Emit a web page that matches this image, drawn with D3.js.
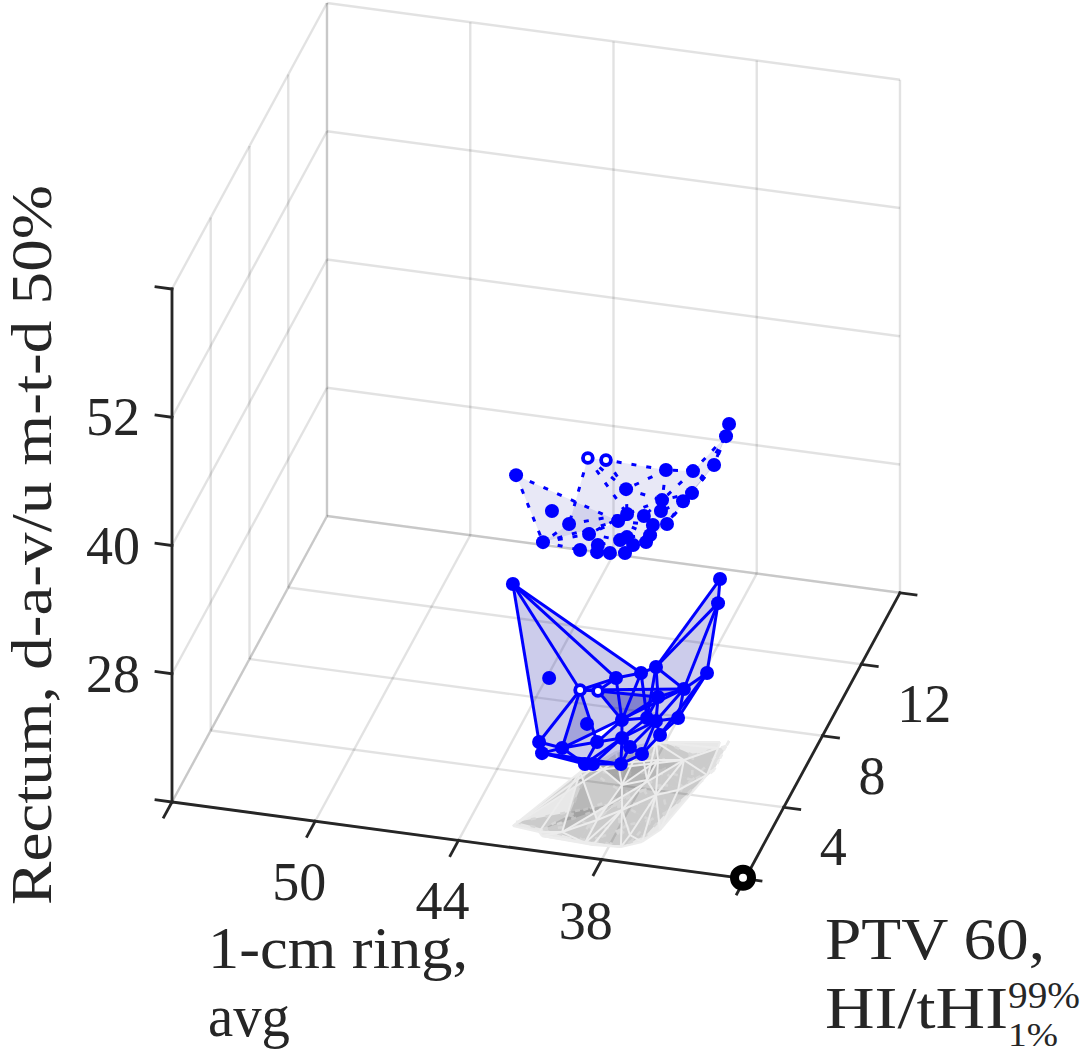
<!DOCTYPE html>
<html>
<head>
<meta charset="utf-8">
<script src="https://cdn.jsdelivr.net/npm/d3@7"></script>
<style>
  html, body { margin: 0; padding: 0; background: #fff; }
  svg { display: block; }
  text { font-family: "Liberation Serif", serif; fill: #262626; }
</style>
</head>
<body>
<svg id="chart" width="1081" height="1053"></svg>
<script>
const xTicks = [56, 50, 44, 38, 32];
const yTicks = [0, 4, 8, 12, 16];
const zTicks = [16, 28, 40, 52, 64];
const xTickLabels = ['', '50', '44', '38', ''];
const yTickLabels = ['', '4', '8', '12', ''];
const zTickLabels = ['', '28', '40', '52', ''];

// lower surface, drawn with solid lines
const solidX = [42.18, 35.87, 35.82, 35.68, 38.37, 38.89, 39.72, 41.19, 40.70, 40.15, 36.90, 37.91, 39.84, 38.79, 37.92, 36.49, 37.25, 39.02, 38.26, 41.03, 40.83, 40.13, 39.01, 38.65, 37.52, 36.80, 36.35, 37.42];
const solidY = [1.13, 6.96, 6.63, 5.15, 6.51, 6.25, 5.71, 2.43, 4.42, 4.91, 5.77, 5.59, 3.01, 4.03, 4.47, 4.16, 3.75, 2.03, 2.73, 1.00, 0.81, 1.16, 0.75, 0.70, 0.79, 1.20, 1.95, 1.48];
const solidZ = [38.64, 31.25, 29.56, 25.54, 23.02, 22.74, 22.92, 27.97, 23.67, 22.92, 22.64, 21.89, 23.11, 22.08, 21.80, 22.74, 22.92, 23.30, 22.74, 24.42, 23.76, 23.86, 23.39, 23.58, 23.76, 24.23, 24.89, 24.23];
const solidHollow = [9, 10];
// point numbers count from 1
const solidTriangles = [
  [1, 20, 9], [20, 22, 9], [1, 9, 7], [1, 7, 6], [2, 3, 5], [3, 5, 11], [3, 11, 4], [4, 11, 16], [4, 16, 27],
  [5, 6, 15], [5, 15, 12], [5, 12, 11], [6, 7, 14], [6, 14, 15], [7, 10, 14], [9, 10, 7], [9, 11, 22], [10, 12, 14],
  [9, 18, 22], [20, 21, 22], [21, 22, 23], [22, 18, 23], [18, 23, 19], [23, 24, 19], [24, 25, 19], [18, 19, 14],
  [14, 15, 19], [15, 17, 19], [15, 12, 17], [12, 11, 17], [11, 16, 17], [16, 27, 17], [17, 27, 26], [17, 26, 28],
  [17, 19, 28], [19, 25, 28], [28, 25, 26], [21, 23, 24], [21, 24, 25]
];

// upper surface, drawn with dotted lines
const dottedX = [42.14, 35.54, 35.55, 35.51, 36.65, 37.96, 40.44, 39.90, 38.84, 41.08, 40.22, 40.94, 36.16, 36.36, 37.54, 37.27, 37.83, 38.38, 38.56, 39.23, 37.16, 36.46, 36.95, 36.79, 37.75, 37.91, 37.19, 37.40, 37.99, 38.53, 39.26, 38.61];
const dottedY = [1.36, 7.08, 6.79, 5.46, 6.09, 6.53, 4.58, 5.12, 4.58, 2.45, 2.10, 1.18, 4.78, 4.35, 5.09, 4.31, 3.93, 3.55, 3.07, 1.72, 3.21, 2.94, 2.40, 1.59, 1.98, 1.67, 1.24, 0.92, 0.82, 0.83, 0.87, 1.10];
const dottedZ = [48.46, 45.65, 45.00, 44.53, 42.57, 41.54, 45.19, 44.25, 42.75, 43.60, 43.22, 42.85, 42.85, 42.75, 41.26, 41.63, 41.63, 42.29, 42.38, 43.22, 42.19, 42.94, 42.66, 43.41, 42.94, 43.13, 43.60, 43.32, 43.32, 43.22, 43.13, 43.41];
const dottedHollow = [7, 8];
const dottedTriangles = [
  [1, 12, 19], [7, 8, 9], [7, 9, 18], [7, 18, 11], [11, 18, 20], [11, 20, 12], [12, 20, 31], [8, 6, 9], [9, 6, 15],
  [9, 15, 18], [15, 17, 18], [6, 5, 15], [5, 15, 13], [5, 13, 3], [3, 13, 4], [2, 3, 4], [13, 14, 4], [4, 14, 22],
  [14, 16, 22], [15, 16, 14], [15, 13, 14], [15, 16, 17], [16, 17, 21], [16, 21, 22], [17, 18, 19], [17, 19, 21],
  [19, 21, 23], [21, 22, 23], [19, 23, 25], [19, 25, 26], [19, 20, 26], [20, 32, 26], [20, 31, 32], [31, 30, 32],
  [30, 29, 32], [32, 29, 26], [29, 28, 26], [26, 28, 27], [26, 25, 27], [25, 23, 27], [23, 24, 27], [23, 22, 24], [27, 28, 24]
];

const utopia = [32, 0, 16];

const xDomain = [56, 32], yDomain = [0, 16], zDomain = [16, 64];

const svg = d3.select('#chart');

// orthographic view: every data axis gets its own screen direction
const xPx = d3.scaleLinear().domain(xDomain).range([0, 573]);
const xPy = d3.scaleLinear().domain(xDomain).range([0, 76.8]);
const yPx = d3.scaleLinear().domain(yDomain).range([0, 155]);
const yPy = d3.scaleLinear().domain(yDomain).range([0, -286]);
const zPy = d3.scaleLinear().domain(zDomain).range([0, -513]);
const originX = 172, originY = 802;

function project(x, y, z) {
  return [originX + xPx(x) + yPx(y), originY + xPy(x) + yPy(y) + zPy(z)];
}

const line3 = d3.line();

function drawSegments(parent, segs, attrs) {
  return parent.append('g')
    .attr('fill', 'none')
    .selectAll('path')
    .data(segs)
    .join('path')
      .attr('d', d => line3(d.map(p => project(p[0], p[1], p[2]))))
      .attr('stroke-linecap', attrs.cap || 'butt')
      .attr('stroke', attrs.color)
      .attr('stroke-opacity', attrs.opacity || 1)
      .attr('stroke-width', attrs.width);
}

const [x0, x1] = xDomain, [y0, y1] = yDomain, [z0, z1] = zDomain;

// back walls and floor, edges shared by two planes come out darker
const grid = [];
xTicks.forEach(x => {
  grid.push([[x, y0, z0], [x, y1, z0]]);
  grid.push([[x, y1, z0], [x, y1, z1]]);
});
yTicks.forEach(y => {
  grid.push([[x0, y, z0], [x1, y, z0]]);
  grid.push([[x0, y, z0], [x0, y, z1]]);
});
zTicks.forEach(z => {
  grid.push([[x0, y0, z], [x0, y1, z]]);
  grid.push([[x0, y1, z], [x1, y1, z]]);
});
drawSegments(svg, grid, { color: '#000', opacity: 0.115, width: 2.4 });

function edgesOf(triangles) {
  const seen = new Map();
  triangles.forEach(t => {
    [[t[0], t[1]], [t[1], t[2]], [t[2], t[0]]].forEach(([a, b]) => {
      seen.set(a < b ? `${a}-${b}` : `${b}-${a}`, [Math.min(a, b), Math.max(a, b)]);
    });
  });
  return Array.from(seen.values());
}

function drawShadow(xs, ys, triangles, dash, width, fillOpacity) {
  const g = svg.append('g');
  g.selectAll('path.tri')
    .data(triangles)
    .join('path')
      .attr('class', 'tri')
      .attr('d', t => line3(t.map(i => project(xs[i - 1], ys[i - 1], z0))) + 'Z')
      .attr('fill', '#000')
      .attr('fill-opacity', fillOpacity)
      .attr('stroke', 'none');
  g.selectAll('path.edge')
    .data(edgesOf(triangles))
    .join('path')
      .attr('class', 'edge')
      .attr('d', e => line3(e.map(i => project(xs[i - 1], ys[i - 1], z0))))
      .attr('fill', 'none')
      .attr('stroke', '#ececec')
      .attr('stroke-width', width)
      .attr('stroke-dasharray', dash);
}

drawShadow(dottedX, dottedY, dottedTriangles, '5 10', 2.5, 0.12);
drawShadow(solidX, solidY, solidTriangles, null, 2, 0.09);

function drawSurface(xs, ys, zs, triangles, hollow, dash, width, fillOpacity) {
  const g = svg.append('g');
  const pts = xs.map((x, i) => project(x, ys[i], zs[i]));
  g.selectAll('path.tri')
    .data(triangles)
    .join('path')
      .attr('class', 'tri')
      .attr('d', t => line3(t.map(i => pts[i - 1])) + 'Z')
      .attr('fill', 'rgb(0,0,155)')
      .attr('fill-opacity', fillOpacity)
      .attr('stroke', 'none');
  g.selectAll('path.edge')
    .data(edgesOf(triangles))
    .join('path')
      .attr('class', 'edge')
      .attr('d', e => line3(e.map(i => pts[i - 1])))
      .attr('fill', 'none')
      .attr('stroke', '#0000ff')
      .attr('stroke-width', width)
      .attr('stroke-dasharray', dash);
  g.selectAll('circle')
    .data(pts)
    .join('circle')
      .attr('cx', d => d[0])
      .attr('cy', d => d[1])
      .attr('r', (d, i) => hollow.includes(i + 1) ? 4.9 : 7)
      .attr('fill', (d, i) => hollow.includes(i + 1) ? '#fff' : '#0000ff')
      .attr('stroke', (d, i) => hollow.includes(i + 1) ? '#0000ff' : 'none')
      .attr('stroke-width', 3.8);
}

drawSurface(dottedX, dottedY, dottedZ, dottedTriangles, dottedHollow, '5 10', 3, 0.09);
drawSurface(solidX, solidY, solidZ, solidTriangles, solidHollow, null, 3, 0.2);

// front axes with outward ticks
const axisLines = [
  [[x0, y0, z0], [x0, y0, z1]],
  [[x0, y0, z0], [x1, y0, z0]],
  [[x1, y0, z0], [x1, y1, z0]]
];
xTicks.forEach(x => axisLines.push([[x, y0, z0], [x, -0.85, z0]]));
yTicks.forEach(y => axisLines.push([[x1, y, z0], [x1 - 0.67, y, z0]]));
zTicks.forEach(z => axisLines.push([[x0, y0, z], [x0 + 0.67, y0, z]]));
drawSegments(svg, axisLines, { color: '#262626', width: 2.8, cap: 'square' });

// utopia point at the corner, over the axes
const u = project(utopia[0], utopia[1], utopia[2]);
svg.append('circle')
  .attr('cx', u[0] - 2)
  .attr('cy', u[1] - 1)
  .attr('r', 8.5)
  .attr('fill', '#fff')
  .attr('stroke', '#000')
  .attr('stroke-width', 9);

const tickFont = 54;

function tickRows(ticks, labels) {
  return ticks.map((t, i) => [t, labels[i]]).filter(d => d[1] !== '');
}

svg.append('g').selectAll('text')
  .data(tickRows(xTicks, xTickLabels))
  .join('text')
    .attr('x', d => project(d[0], y0, z0)[0] - 16)
    .attr('y', d => project(d[0], y0, z0)[1] + 79)
    .attr('text-anchor', 'middle')
    .attr('font-size', tickFont)
    .text(d => d[1]);
svg.append('g').selectAll('text')
  .data(tickRows(yTicks, yTickLabels))
  .join('text')
    .attr('x', d => project(x1, d[0], z0)[0] + 36)
    .attr('y', d => project(x1, d[0], z0)[1] + 58)
    .attr('font-size', tickFont)
    .text(d => d[1]);
svg.append('g').selectAll('text')
  .data(tickRows(zTicks, zTickLabels))
  .join('text')
    .attr('x', 140)
    .attr('y', d => project(x0, y0, d[0])[1] + 18)
    .attr('text-anchor', 'end')
    .attr('font-size', tickFont)
    .text(d => d[1]);

// axis titles, stretched a little to the wider setting of the original face
function title(x, y, str, size, len) {
  return svg.append('text')
    .attr('x', x)
    .attr('y', y)
    .attr('font-size', size)
    .attr('textLength', len)
    .attr('lengthAdjust', 'spacingAndGlyphs')
    .text(str);
}

const labelFont = 60;
title(0, 0, 'Rectum, d-a-v/u m-t-d 50%', 56, 720)
  .attr('transform', 'translate(50.5,905) rotate(-90)');
title(208, 968, '1-cm ring,', labelFont, 260);
title(208, 1036, 'avg', labelFont, 82);
title(825, 959, 'PTV 60,', labelFont, 220);
title(825, 1028, 'HI/tHI', labelFont, 183);
title(1008, 1008, '99%', 38, 72);
title(1008, 1045.5, '1%', 34, 50);
</script>
</body>
</html>
